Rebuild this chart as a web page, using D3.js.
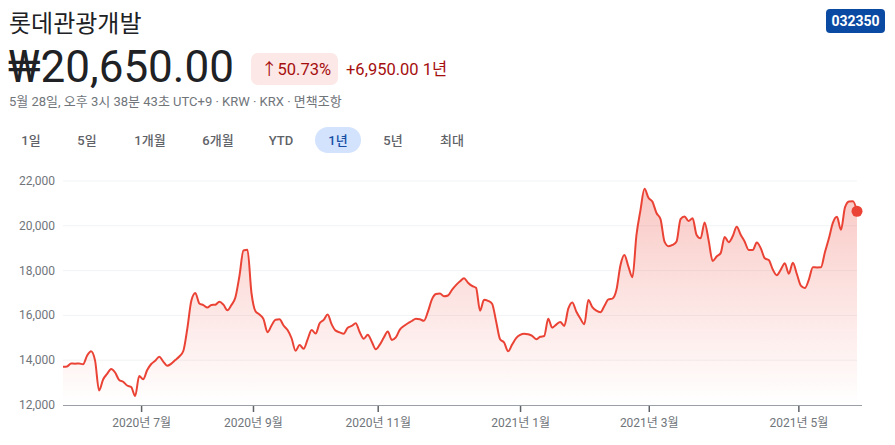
<!DOCTYPE html>
<html>
<head>
<meta charset="utf-8">
<script src="https://cdn.jsdelivr.net/npm/d3@7"></script>
<style>
  body { margin: 0; background: #fff; }
  text { font-family: Roboto, "Noto Sans CJK KR", sans-serif; }
</style>
</head>
<body>
<div id="chart"></div>
<script>
var width = 895;
var height = 445;

// daily closes (one value per session step)
var prices = [
  13710, 13720, 13850, 13845, 13850, 13820, 14200, 14400, 13980, 12650,
  13140, 13390, 13610, 13450, 13115, 13040, 12870, 12800, 12400, 13300,
  13150, 13560, 13830, 13975, 14155, 13940, 13750, 13845, 14005, 14165,
  14410, 15410, 16650, 17000, 16530, 16460, 16350, 16464, 16480, 16610,
  16480, 16230, 16460, 16810, 17760, 18900, 18930, 17000, 16190, 16040,
  15835, 15250, 15550, 15810, 15830, 15550, 15345, 14980, 14420, 14680,
  14510, 14930, 15350, 15190, 15650, 15800, 16040, 15600, 15320, 15245,
  15185, 15450, 15527, 15650, 15250, 14960, 15140, 14826, 14485, 14695,
  15010, 15280, 14905, 15015, 15365, 15525, 15650, 15750, 15855, 15825,
  15760, 16165, 16715, 16955, 16980, 16850, 16890, 17140, 17350, 17520,
  17656, 17460, 17315, 17230, 16210, 16700, 16650, 16520, 15740, 14932,
  14790, 14400, 14700, 14990, 15135, 15185, 15155, 15085, 14935, 15045,
  15080, 15850, 15450, 15590, 15710, 15530, 16300, 16580, 16175, 15860,
  15605, 16690, 16370, 16210, 16140, 16420, 16718, 16750, 17130, 18230,
  18700, 18174, 17700, 19580, 20690, 21650, 21250, 21075, 20570, 20300,
  19290, 19090, 19145, 19300, 20300, 20420, 20210, 20340, 19590, 19440,
  20150, 19350, 18430, 18630, 18780, 19500, 19270, 19530, 19960, 19600,
  19290, 18919, 18919, 19250, 19000, 18549, 18470, 18050, 17795, 18045,
  18330, 17860, 18350, 17850, 17330, 17220, 17600, 18150, 18140, 18145,
  18820, 19440, 20140, 20400, 19820, 20820, 21090, 21100, 20650
];

var yTicks = [12000, 14000, 16000, 18000, 20000, 22000];
// session index where each month starts
var monthPos = [19.6, 47.5, 78.6, 114.1, 146.2, 183.5];
var monthLabels = ["2020년 7월", "2020년 9월", "2020년 11월", "2021년 1월", "2021년 3월", "2021년 5월"];
var ranges = ["1일", "5일", "1개월", "6개월", "YTD", "1년", "5년", "최대"];
var rangeX = [31, 87, 150, 218, 281, 338, 393, 452];

var red = "#ea4335";

var svg = d3.select("#chart")
    .append("svg")
    .attr("width", width)
    .attr("height", height);

// header
svg.append("text")
    .attr("x", 9).attr("y", 32)
    .style("font-size", "24px")
    .attr("fill", "#202124")
    .text("롯데관광개발");

svg.append("rect")
    .attr("x", 826).attr("y", 9)
    .attr("width", 59).attr("height", 24)
    .attr("rx", 4)
    .attr("fill", "#0b4aa2");
svg.append("text")
    .attr("x", 855.5).attr("y", 26)
    .attr("text-anchor", "middle")
    .style("font-size", "14px").style("font-weight", "bold")
    .attr("fill", "#fff")
    .text("032350");

svg.append("text")
    .attr("x", 8).attr("y", 82)
    .style("font-size", "44px")
    .attr("fill", "#202124")
    .text("₩20,650.00");

svg.append("rect")
    .attr("x", 251).attr("y", 53)
    .attr("width", 87).attr("height", 32)
    .attr("rx", 7)
    .attr("fill", "#fce8e6");
svg.append("text")
    .attr("x", 261).attr("y", 75)
    .style("font-size", "16.5px")
    .attr("fill", "#a50e0e")
    .text("↑50.73%");

svg.append("text")
    .attr("x", 346).attr("y", 75)
    .style("font-size", "16.5px")
    .attr("fill", "#a50e0e")
    .text("+6,950.00 1년");

svg.append("text")
    .attr("x", 9).attr("y", 106)
    .style("font-size", "13px")
    .attr("fill", "#70757a")
    .text("5월 28일, 오후 3시 38분 43초 UTC+9 · KRW · KRX · 면책조항");

// range selector
svg.append("rect")
    .attr("x", 315).attr("y", 127)
    .attr("width", 46).attr("height", 26)
    .attr("rx", 13)
    .attr("fill", "#d3e3fd");

svg.append("g")
    .selectAll("text")
    .data(ranges)
    .enter().append("text")
    .attr("x", function (d, i) { return rangeX[i]; })
    .attr("y", 145)
    .attr("text-anchor", "middle")
    .style("font-size", "13px")
    .style("font-weight", 500)
    .attr("fill", function (d) { return d === "1년" ? "#174ea6" : "#5f6368"; })
    .text(function (d) { return d; });

// chart
var x = d3.scaleLinear()
    .domain([0, prices.length - 1])
    .range([63, 857]);

var y = d3.scaleLinear()
    .domain([12000, 22000])
    .range([405, 181]);

var defs = svg.append("defs");
var grad = defs.append("linearGradient")
    .attr("id", "fade")
    .attr("gradientUnits", "userSpaceOnUse")
    .attr("x1", 0).attr("x2", 0)
    .attr("y1", y(22000)).attr("y2", y(12000));
grad.append("stop").attr("offset", "0%").attr("stop-color", red).attr("stop-opacity", 0.3);
grad.append("stop").attr("offset", "100%").attr("stop-color", red).attr("stop-opacity", 0);

svg.append("g")
    .selectAll("line")
    .data(yTicks.slice(1))
    .enter().append("line")
    .attr("x1", 63).attr("x2", 857)
    .attr("y1", function (d) { return y(d); })
    .attr("y2", function (d) { return y(d); })
    .attr("stroke", "#f1f3f4")
    .attr("stroke-width", 1);

svg.append("g")
    .selectAll("text")
    .data(yTicks)
    .enter().append("text")
    .attr("x", 55)
    .attr("y", function (d) { return y(d) + 4; })
    .attr("text-anchor", "end")
    .style("font-size", "12px")
    .attr("fill", "#70757a")
    .text(function (d) { return d3.format(",")(d); });

var area = d3.area()
    .x(function (d, i) { return x(i); })
    .y0(y(12000))
    .y1(function (d) { return y(d); })
    .curve(d3.curveMonotoneX);

var line = d3.line()
    .x(function (d, i) { return x(i); })
    .y(function (d) { return y(d); })
    .curve(d3.curveMonotoneX);

svg.append("path")
    .datum(prices)
    .attr("d", area)
    .attr("fill", "url(#fade)");

svg.append("path")
    .datum(prices)
    .attr("d", line)
    .attr("fill", "none")
    .attr("stroke", red)
    .attr("stroke-width", 2)
    .attr("stroke-linejoin", "round");

// bottom axis
svg.append("line")
    .attr("x1", 63).attr("x2", 862)
    .attr("y1", 405.5).attr("y2", 405.5)
    .attr("stroke", "#9aa0a6")
    .attr("stroke-width", 1);

var ticks = svg.append("g");
ticks.selectAll("line")
    .data(monthPos)
    .enter().append("line")
    .attr("x1", function (d) { return x(d); })
    .attr("x2", function (d) { return x(d); })
    .attr("y1", 406).attr("y2", 412)
    .attr("stroke", "#5f6368")
    .attr("stroke-width", 1.5);
ticks.selectAll("text")
    .data(monthLabels)
    .enter().append("text")
    .attr("x", function (d, i) { return x(monthPos[i]); })
    .attr("y", 427)
    .attr("text-anchor", "middle")
    .style("font-size", "12px")
    .attr("fill", "#70757a")
    .text(function (d) { return d; });

// last price marker
svg.append("circle")
    .attr("cx", x(prices.length - 1))
    .attr("cy", y(prices[prices.length - 1]))
    .attr("r", 5.5)
    .attr("fill", red);
</script>
</body>
</html>
